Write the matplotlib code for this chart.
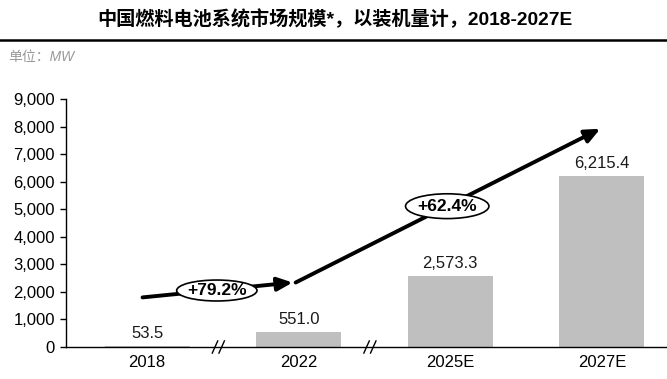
import matplotlib
matplotlib.use("Agg")
import matplotlib.pyplot as plt
from matplotlib.patches import Ellipse
from matplotlib.lines import Line2D

categories = ["2018", "2022", "2025E", "2027E"]
values = [53.5, 551.0, 2573.3, 6215.4]
value_labels = ["53.5", "551.0", "2,573.3", "6,215.4"]
yticks = [0, 1000, 2000, 3000, 4000, 5000, 6000, 7000, 8000, 9000]
cagr_labels = ["+79.2%", "+62.4%"]

latin = ["Liberation Sans", "Noto Sans CJK SC"]
cjk = ["Liberation Sans", "Noto Sans CJK SC"]

fig = plt.figure(figsize=(6.67, 3.79), dpi=100)
ax = fig.add_axes([66/667, 1-347/379, 1-66/667, (347-99)/379])

x = list(range(len(categories)))
ax.bar(x, values, width=0.56, color="#BFBFBF", zorder=2)
for xi, v, lab in zip(x, values, value_labels):
    ax.text(xi, v + 180, lab, ha="center", va="bottom", fontsize=12, family=latin, color="#1a1a1a")

ax.set_xlim(-0.535, 3.43)
ax.set_ylim(0, 9000)
ax.set_yticks(yticks)
ax.set_yticklabels([f"{t:,}" for t in yticks], family=latin, fontsize=12)
ax.set_xticks(x)
ax.set_xticklabels(categories, family=latin, fontsize=12)
ax.tick_params(axis="x", length=0, pad=6)
ax.tick_params(axis="y", length=4, width=1, direction="out", pad=4)
for s in ["top", "right"]:
    ax.spines[s].set_visible(False)
ax.spines["left"].set_linewidth(1.0)
ax.spines["bottom"].set_linewidth(1.0)

# axis break marks
for bx in [0.47, 1.47]:
    for off in [-0.022, 0.022]:
        ax.add_line(Line2D([bx + off - 0.018, bx + off + 0.018], [-220, 220],
                           color="black", lw=1.0, clip_on=False, zorder=5))

# growth arrows
arrow_kw = dict(arrowstyle="-|>,head_length=0.9,head_width=0.4", color="black", lw=2.8,
                shrinkA=0, shrinkB=0)
ax.annotate("", xy=(0.96, 2340), xytext=(-0.03, 1800), arrowprops=arrow_kw, zorder=4)
ax.annotate("", xy=(2.99, 7920), xytext=(0.98, 2340), arrowprops=arrow_kw, zorder=4)

for (cx, cy, lab, w, h) in [(0.46, 2050, cagr_labels[0], 0.53, 760), (1.98, 5110, cagr_labels[1], 0.55, 900)]:
    e = Ellipse((cx, cy), w, h, facecolor="white", edgecolor="black", lw=1.2, zorder=6)
    ax.add_patch(e)
    ax.text(cx, cy, lab, ha="center", va="center", fontsize=12.5, fontweight="bold",
            family=latin, zorder=7)

# title and rule
fig.text(335/667, 1-19/379, "中国燃料电池系统市场规模*，以装机量计，2018-2027E", ha="center", va="center",
         fontsize=13.8, fontweight="bold", family=cjk)
fig.add_artist(Line2D([0, 1], [1-40/379, 1-40/379], color="black", lw=1.8))
fig.text(8/667, 1-57/379, "单位：MW", ha="left", va="center", fontsize=10, style="italic",
         color="#999999", family=cjk)

fig.savefig("out.png", dpi=100)
